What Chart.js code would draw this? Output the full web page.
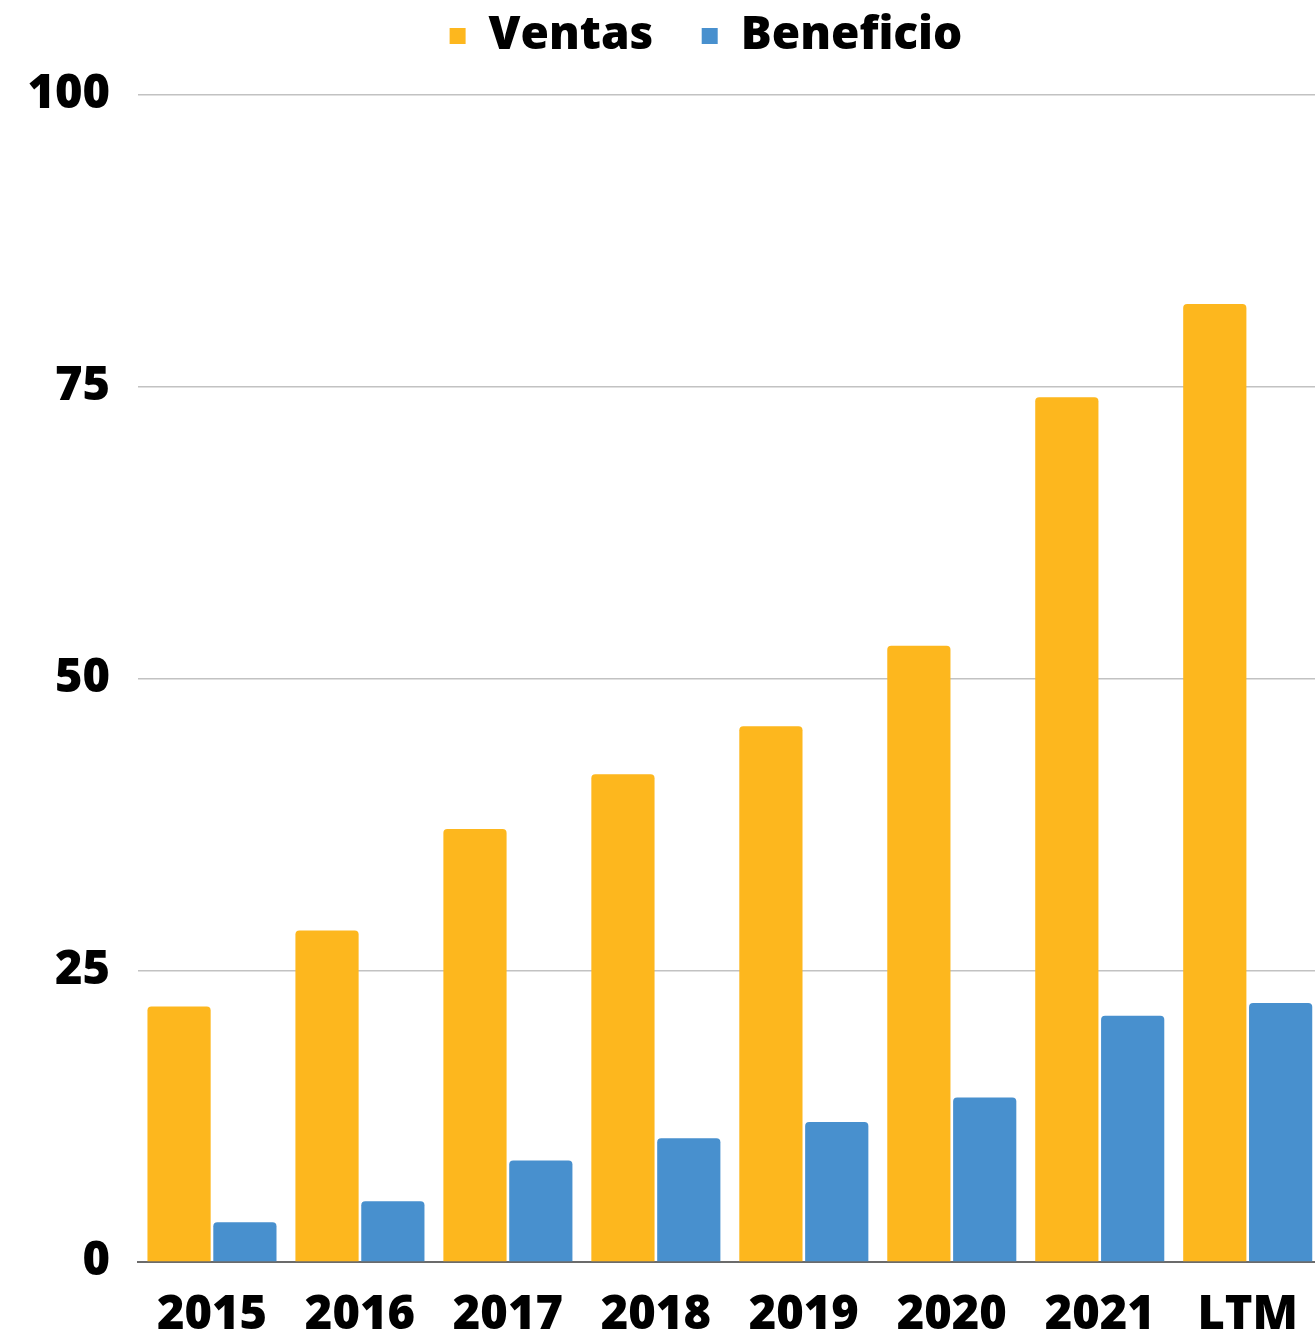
<!DOCTYPE html>
<html>
<head>
<meta charset="utf-8">
<script src="https://cdn.jsdelivr.net/npm/chart.js@4.4.1/dist/chart.umd.min.js"></script>
<style>
  html, body { margin: 0; padding: 0; background: #fff; overflow: hidden; }
  #wrap { position: relative; width: 1328px; height: 1334px; }
</style>
</head>
<body>
<div id="wrap"><canvas id="salesChart"></canvas></div>
<script>
// Data
const categories = ['2015', '2016', '2017', '2018', '2019', '2020', '2021', 'LTM'];
const ventas = [21.9, 28.4, 37.1, 41.8, 45.9, 52.8, 74.1, 82.1];
const beneficio = [3.4, 5.2, 8.7, 10.6, 12.0, 14.1, 21.1, 22.2];
const seriesNames = ['Ventas', 'Beneficio'];
const yTicks = [0, 25, 50, 75, 100];

document.addEventListener('DOMContentLoaded', function () {
    const ctx = document.getElementById('salesChart').getContext('2d');
    const fontFamily = '"Open Sans", "DejaVu Sans", sans-serif';
    const tickFont = { family: fontFamily, size: 47, weight: '800', lineHeight: 1 };

    // keep the legend pinned to the top, a bit right of the canvas centre
    const legendOffset = {
        id: 'legendOffset',
        afterLayout(chart) {
            const lg = chart.legend;
            const dy = lg.top - 3;
            lg.top -= dy;
            lg.bottom -= dy;
            lg.left += 42;
            lg.right += 42;
        }
    };

    new Chart(ctx, {
        type: 'bar',
        data: {
            labels: categories,
            datasets: [{
                label: seriesNames[0],
                data: ventas,
                backgroundColor: '#FDB71E',
                borderRadius: { topLeft: 4, topRight: 4 },
                borderSkipped: 'start',
                barPercentage: 0.96,
                categoryPercentage: 0.89
            }, {
                label: seriesNames[1],
                data: beneficio,
                backgroundColor: '#4890CE',
                borderRadius: { topLeft: 4, topRight: 4 },
                borderSkipped: 'start',
                barPercentage: 0.96,
                categoryPercentage: 0.89
            }]
        },
        plugins: [legendOffset],
        options: {
            responsive: true,
            maintainAspectRatio: false,
            animation: false,
            layout: { padding: { left: 0, top: 2, right: 0, bottom: 0 } },
            plugins: {
                tooltip: { enabled: false },
                legend: {
                    position: 'top',
                    labels: {
                        boxWidth: 16,
                        boxHeight: 16,
                        padding: 10,
                        color: '#000',
                        font: { family: fontFamily, size: 46, weight: '800', lineHeight: 1 },
                        // a little extra room after the first entry
                        generateLabels: function (chart) {
                            const items = Chart.defaults.plugins.legend.labels.generateLabels(chart);
                            items.forEach((item, i) => {
                                item.lineWidth = 0;
                                if (i < items.length - 1) item.text = item.text + '\u2002\u2004';
                            });
                            return items;
                        }
                    }
                }
            },
            scales: {
                x: {
                    afterFit: function (scale) { scale.height = 72; },
                    grid: { display: false, drawTicks: false },
                    border: { display: true, color: '#6b6b6b', width: 2 },
                    ticks: {
                        color: '#000',
                        padding: 30,
                        maxRotation: 0,
                        autoSkip: false,
                        font: tickFont
                    }
                },
                y: {
                    min: 0,
                    max: 100,
                    afterFit: function (scale) {
                        scale.width = 138;
                        scale.paddingTop = 95;
                    },
                    afterBuildTicks: function (scale) {
                        scale.ticks = yTicks.map(v => ({ value: v }));
                    },
                    grid: { color: '#c2c2c2', lineWidth: 1.5, drawTicks: false },
                    border: { display: false },
                    ticks: {
                        color: '#000',
                        padding: 28,
                        font: tickFont
                    }
                }
            }
        }
    });
});
</script>
</body>
</html>
